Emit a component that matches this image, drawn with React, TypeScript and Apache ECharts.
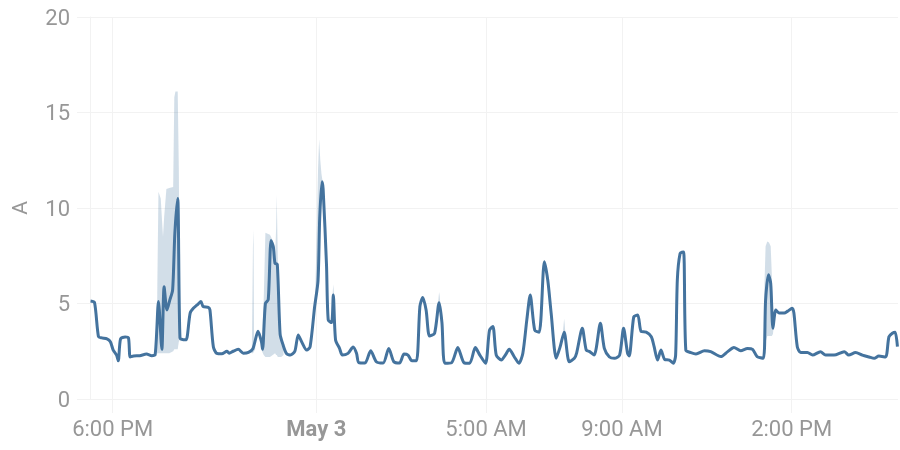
import React, { useEffect, useRef } from "react";
import * as echarts from "echarts";

// minutes after 5:00 PM, May 2
const meanTimes = [21,28,35,41,50,56,61,67,70,74,82,88,91,97,108,120,129,135,141,147,151,156,161,166,170,175,179,185,190,197,203,211,216,220,229,232,238,244,253,262,266,273,282,291,300,308,317,323,325,330,335,340,344,347,351,356,361,367,374,382,388,394,403,409,417,423,426,430,432,438,441,447,450,454,461,466,476,485,491,495,506,516,526,538,548,557,567,575,582,589,597,603,608,614,620,629,637,642,647,659,670,681,691,701,709,719,726,732,738,747,754,761,770,778,785,792,798,806,814,823,829,835,844,851,858,867,876,880,890,897,903,911,922,929,938,947,956,963,970,973,981,988,994,1003,1012,1017,1023,1029,1036,1044,1051,1055,1058,1063,1069,1073,1082,1091,1106,1117,1135,1147,1158,1170,1182,1191,1199,1210,1214,1219,1223,1227,1232,1238,1247,1253,1261,1264,1270,1276,1288,1297,1311,1320,1335,1353,1361,1373,1385,1397,1406,1414,1426,1432,1438,1443,1447];
const meanVals = [5.13,5.05,3.26,3.2,3.15,3.0,2.56,2.3,2.0,3.15,3.25,3.2,2.2,2.25,2.27,2.35,2.27,2.3,5.1,2.6,5.88,4.66,5.18,5.7,8.7,10.5,3.2,3.1,3.1,4.5,4.76,4.97,5.1,4.84,4.8,4.66,2.74,2.39,2.37,2.5,2.4,2.5,2.6,2.4,2.44,2.64,3.55,3.0,2.6,5.0,5.2,8.3,7.97,7.1,7.05,3.4,2.85,2.39,2.3,2.5,3.35,3.0,2.56,2.74,4.83,6.2,9.5,11.38,11.0,7.0,4.14,4.0,5.44,3.09,2.65,2.3,2.39,2.72,2.39,1.9,1.88,2.53,1.95,1.88,2.65,1.95,1.88,2.35,2.3,2.0,2.0,4.83,5.32,4.66,3.3,3.44,5.04,4.0,1.87,1.9,2.69,1.9,1.87,2.69,2.3,1.87,3.6,3.8,2.3,2.04,2.3,2.6,2.2,1.87,2.4,4.14,5.44,3.6,3.5,7.19,6.23,4.5,2.13,2.74,3.5,1.95,2.13,2.4,3.7,2.56,2.48,2.3,3.96,2.65,2.2,2.13,2.3,3.7,2.4,2.25,4.3,4.4,3.53,3.5,3.26,2.74,2.04,2.56,2.06,2.04,1.87,2.3,6.23,7.63,7.7,2.56,2.43,2.36,2.53,2.48,2.22,2.48,2.7,2.53,2.65,2.6,2.22,2.13,5.18,6.5,6.06,3.7,4.66,4.5,4.5,4.6,4.75,4.5,2.74,2.43,2.43,2.3,2.48,2.3,2.3,2.48,2.3,2.43,2.3,2.2,2.13,2.25,2.2,3.26,3.44,3.5,2.74];

// min / max bands where they stand out from the mean
const band1Times = [138,139,141,145,149,151,155,160,167,169,171,175,177,179,181];
const band1Max = [2.4,6.0,10.85,10.5,8.5,9.5,11.0,11.05,11.1,15.8,16.1,16.1,12.0,3.4,3.2];
const band1Min = [2.3,2.4,2.4,2.4,2.4,2.4,2.4,2.4,2.5,2.6,2.6,2.6,3.0,3.1,3.0];
const band2Times = [306,308,309,310,312];
const band2Max = [2.5,8.0,8.85,3.0,2.8];
const band2Min = [2.4,2.4,2.45,2.5,2.6];
const band3Times = [324,327,330,338,343,347,349,350,352,355,358,362];
const band3Max = [3.0,5.2,8.7,8.6,8.3,7.3,9.0,10.7,7.2,4.0,3.0,2.6];
const band3Min = [2.5,2.3,2.2,2.2,2.3,2.4,2.3,2.3,2.2,2.2,2.2,2.3];
const band4Times = [414,418,421,423,425,427,429,432];
const band4Max = [4.3,5.5,9.0,12.0,13.6,12.5,11.8,11.2];
const band4Min = [3.6,4.6,5.3,5.8,7.5,9.0,10.5,10.6];
const band5Times = [447,449,450,451,453];
const band5Max = [4.1,5.6,6.0,5.6,4.0];
const band5Min = [3.9,4.6,5.2,4.8,3.5];
const band6Times = [633,636,637,638,640];
const band6Max = [4.3,5.3,5.6,5.4,4.7];
const band6Min = [3.8,4.6,4.9,4.8,4.3];
const band7Times = [855,857,858,859,861];
const band7Max = [3.3,3.9,4.2,3.9,3.1];
const band7Min = [2.9,3.3,3.4,3.2,2.7];
const band8Times = [1210,1212,1214,1217,1220,1223,1225,1227,1229,1232];
const band8Max = [2.2,6.0,8.0,8.24,8.2,8.0,6.5,4.5,4.5,4.7];
const band8Min = [2.1,2.2,3.0,3.3,3.3,3.3,3.3,3.4,4.0,4.5];

const tickMinutes = [60, 420, 720, 960, 1260];
const tickLabels = ["6:00 PM", "May 3", "5:00 AM", "9:00 AM", "2:00 PM"];
const tickBold = [false, true, false, false, false];

const BASE = new Date(2025, 4, 2, 17, 0, 0).getTime();
const ts = (m: number) => BASE + m * 60000;

const LINE = "#44739e";
const BAND = "rgba(68,115,158,0.24)";
const GRID = "#f2f2f2";
const TEXT = "#979797";

export default function App() {
  const ref = useRef<HTMLDivElement>(null);
  useEffect(() => {
    if (!ref.current) return;
    const chart = echarts.init(ref.current, null, { renderer: "svg" });
    const bands = [
      [band1Times, band1Min, band1Max],
      [band2Times, band2Min, band2Max],
      [band3Times, band3Min, band3Max],
      [band4Times, band4Min, band4Max],
      [band5Times, band5Min, band5Max],
      [band6Times, band6Min, band6Max],
      [band7Times, band7Min, band7Max],
      [band8Times, band8Min, band8Max],
    ];
    const tickTs = tickMinutes.map(ts);
    chart.setOption({
      animation: false,
      grid: { left: 90, right: 2, top: 17, bottom: 51, containLabel: false },
      xAxis: {
        type: "value",
        min: ts(20),
        max: ts(1448),
        axisLine: { show: false },
        axisTick: { show: true, length: 14, lineStyle: { color: GRID }, customValues: tickTs },
        splitLine: { show: true, lineStyle: { color: GRID } },
        axisLabel: {
          customValues: tickTs,
          color: TEXT,
          fontSize: 22,
          fontFamily: "Roboto",
          margin: 18,
          formatter: (v: number) => {
            const i = tickTs.indexOf(v);
            if (i < 0) return "";
            return tickBold[i] ? `{b|${tickLabels[i]}}` : tickLabels[i];
          },
          rich: { b: { fontWeight: "bold", color: TEXT, fontSize: 22, fontFamily: "Roboto" } },
        },
      },
      yAxis: {
        type: "value",
        min: 0,
        max: 20,
        interval: 5,
        name: "A",
        nameLocation: "middle",
        nameGap: 60,
        nameTextStyle: { color: TEXT, fontSize: 21, fontFamily: "Roboto" },
        axisLine: { show: true, lineStyle: { color: GRID } },
        axisTick: { show: true, length: 13, lineStyle: { color: GRID } },
        axisLabel: { color: TEXT, fontSize: 22, fontFamily: "Roboto", margin: 20 },
        splitLine: { show: true, lineStyle: { color: GRID } },
      },
      series: [
        {
          type: "custom",
          data: [[ts(meanTimes[0]), 0]],
          encode: { x: 0, y: 1 },
          silent: true,
          renderItem: (_params: any, api: any) => ({
            type: "group",
            children: bands.map(([t, mn, mx]) => {
              const top = t.map((m, i) => api.coord([ts(m), mx[i]]));
              const bottom = t.map((m, i) => api.coord([ts(m), mn[i]])).reverse();
              return { type: "polygon", shape: { points: top.concat(bottom) }, style: { fill: BAND } };
            }),
          }),
        },
        {
          type: "line",
          data: meanTimes.map((m, i) => [ts(m), meanVals[i]]),
          showSymbol: false,
          smooth: 0.25,
          lineStyle: { color: LINE, width: 3 },
          itemStyle: { color: LINE },
        },
      ],
    });
    return () => chart.dispose();
  }, []);
  return <div ref={ref} style={{ position: "fixed", left: 0, top: 0, width: 900, height: 450 }} />;
}
